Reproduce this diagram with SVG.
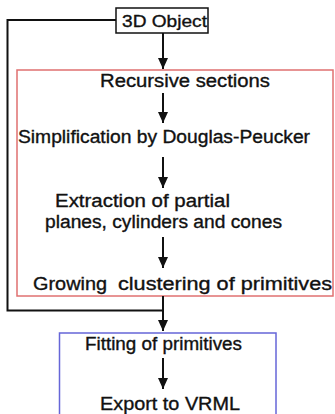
<svg xmlns="http://www.w3.org/2000/svg" width="335" height="414" viewBox="0 0 335 414">
<style>
  text { font-family: "Liberation Sans", Arial, sans-serif; font-size: 18px; fill: #111; stroke: #111; stroke-width: 0.35; }
  .c { stroke: #111; stroke-width: 2; fill: none; }
</style>
<defs>
  <marker id="arr" markerWidth="11" markerHeight="10" refX="11" refY="5" orient="auto" markerUnits="userSpaceOnUse" viewBox="0 0 11 10">
    <path d="M0,0 L11,5 L0,10 Z" fill="#111"/>
  </marker>
</defs>
<rect width="335" height="414" fill="#fff"/>
<g id="group-red"><rect x="17" y="70" width="316" height="226" fill="none" stroke="#e07070" stroke-width="1.5"/></g>
<g id="group-blue"><rect x="59.5" y="333" width="216.5" height="90" fill="none" stroke="#6666d8" stroke-width="1.5"/></g>
<g id="connectors">
  <line class="c" x1="163" y1="33" x2="163" y2="69" marker-end="url(#arr)"/>
  <line class="c" x1="163" y1="93" x2="163" y2="123" marker-end="url(#arr)"/>
  <line class="c" x1="163" y1="157" x2="163" y2="188" marker-end="url(#arr)"/>
  <line class="c" x1="163" y1="237" x2="163" y2="268" marker-end="url(#arr)"/>
  <polyline class="c" points="116,20 7.5,20 7.5,310.5 163,310.5"/>
  <line class="c" x1="163" y1="296" x2="163" y2="331" marker-end="url(#arr)"/>
  <line class="c" x1="163" y1="358" x2="163" y2="389" marker-end="url(#arr)"/>
</g>
<g id="n-3d-object">
  <rect x="116" y="8" width="92" height="25" fill="#fff" stroke="#111" stroke-width="1.5"/>
  <text x="122" y="27" textLength="85" lengthAdjust="spacingAndGlyphs" style="font-size:17px">3D Object</text>
</g>
<g id="n-recursive"><text x="100" y="87" textLength="170" lengthAdjust="spacingAndGlyphs">Recursive sections</text></g>
<g id="n-simplification"><text x="18" y="143" textLength="292" lengthAdjust="spacingAndGlyphs">Simplification by Douglas-Peucker</text></g>
<g id="n-extraction">
  <text x="55" y="207" textLength="175" lengthAdjust="spacingAndGlyphs">Extraction of partial</text>
  <text x="45" y="228" textLength="237" lengthAdjust="spacingAndGlyphs">planes, cylinders and cones</text>
</g>
<g id="n-growing">
  <text y="290"><tspan x="33" textLength="74" lengthAdjust="spacingAndGlyphs">Growing</tspan><tspan x="118" textLength="214" lengthAdjust="spacingAndGlyphs">clustering of primitives</tspan></text>
</g>
<g id="n-fitting"><text x="85" y="350" textLength="157" lengthAdjust="spacingAndGlyphs">Fitting of primitives</text></g>
<g id="n-export"><text x="100" y="410" textLength="140" lengthAdjust="spacingAndGlyphs">Export to VRML</text></g>
</svg>
